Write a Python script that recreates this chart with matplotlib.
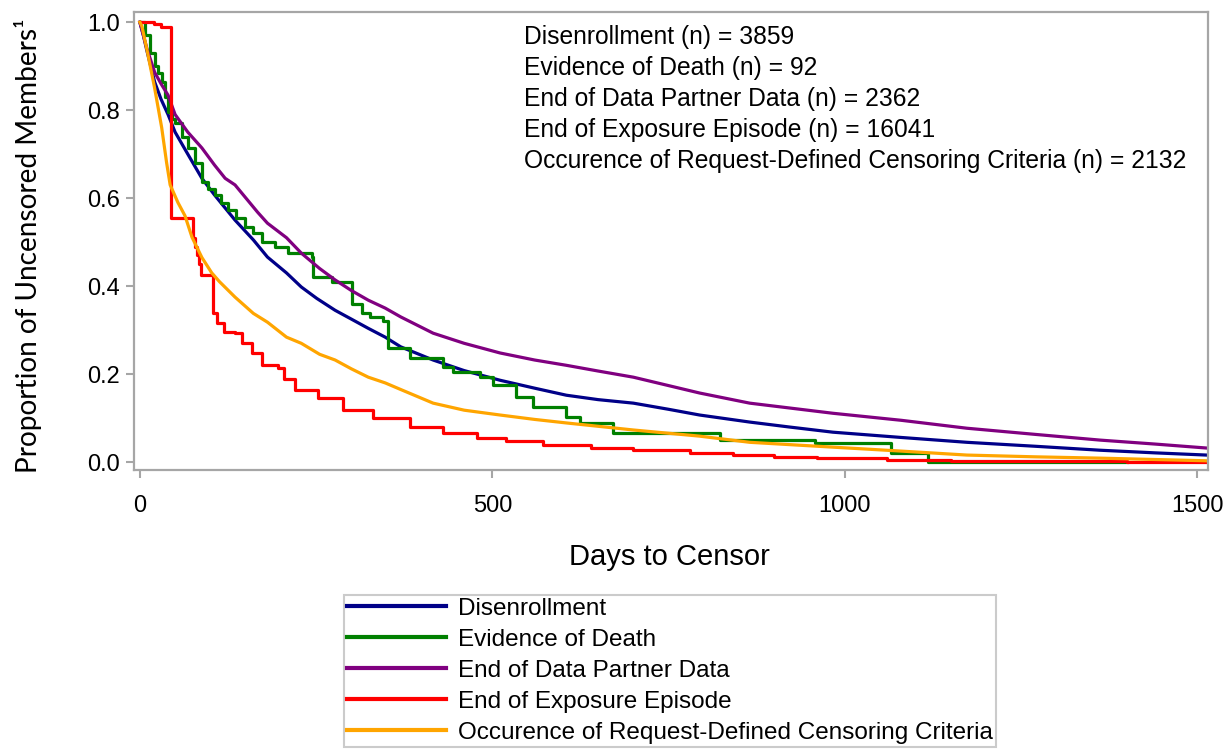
import matplotlib
matplotlib.use('Agg')
import matplotlib.pyplot as plt

plt.rcParams['font.family'] = ['Liberation Sans', 'DejaVu Sans']

# Série : Disenrollment
dis_days = [0, 5, 10, 21, 30, 40, 50, 68, 88, 106, 135, 161, 181, 208, 229, 251, 277, 300, 324,
            348, 370, 416, 460, 511, 560, 605, 650, 700, 750, 794, 865, 920, 983, 1080, 1173,
            1270, 1362, 1440, 1513]
dis_vals = [1.0, 0.97, 0.935, 0.864, 0.825, 0.79, 0.75, 0.70, 0.645, 0.607, 0.55, 0.505, 0.466,
            0.43, 0.398, 0.372, 0.345, 0.325, 0.304, 0.284, 0.262, 0.232, 0.208, 0.186, 0.168,
            0.152, 0.142, 0.134, 0.12, 0.107, 0.091, 0.08, 0.068, 0.056, 0.045, 0.036, 0.027,
            0.021, 0.016]

# Série : Evidence of Death
death_days = [0, 7, 14, 21, 26, 31, 36, 40, 45, 50, 60, 68, 78, 88, 97, 106, 115, 125, 137, 149,
              161, 173, 191, 210, 244, 246, 272, 301, 315, 326, 345, 352, 383, 430, 444, 482,
              501, 534, 558, 605, 624, 671, 823, 957, 1066, 1118, 1400]
death_vals = [1.0, 0.97, 0.93, 0.90, 0.885, 0.864, 0.83, 0.795, 0.78, 0.77, 0.74, 0.714, 0.68,
              0.636, 0.62, 0.607, 0.59, 0.573, 0.555, 0.534, 0.52, 0.50, 0.489, 0.475, 0.466,
              0.42, 0.41, 0.36, 0.34, 0.33, 0.32, 0.26, 0.236, 0.216, 0.205, 0.193, 0.175,
              0.148, 0.125, 0.102, 0.089, 0.066, 0.05, 0.043, 0.02, 0.0, 0.0]

# Série : End of Data Partner Data
dp_days = [0, 5, 10, 21, 30, 40, 50, 68, 88, 106, 121, 135, 167, 181, 208, 229, 255, 277, 300,
           324, 348, 370, 416, 460, 511, 560, 605, 650, 700, 794, 865, 983, 1080, 1173, 1270,
           1362, 1440, 1513]
dp_vals = [1.0, 0.97, 0.94, 0.886, 0.86, 0.834, 0.79, 0.75, 0.714, 0.675, 0.645, 0.63, 0.568,
           0.543, 0.51, 0.475, 0.44, 0.414, 0.39, 0.368, 0.35, 0.33, 0.293, 0.27, 0.248, 0.232,
           0.22, 0.207, 0.193, 0.157, 0.134, 0.111, 0.095, 0.077, 0.063, 0.05, 0.041, 0.032]

# Série : End of Exposure Episode
exp_days = [0, 20, 30, 44, 75, 78, 81, 84, 87, 104, 110, 120, 135, 145, 159, 173, 196, 205, 220,
            252, 288, 330, 383, 430, 478, 520, 572, 640, 700, 780, 841, 900, 960, 1060, 1150,
            1250, 1400, 1513]
exp_vals = [1.0, 0.995, 0.99, 0.555, 0.51, 0.49, 0.47, 0.45, 0.425, 0.34, 0.316, 0.296, 0.293,
            0.27, 0.248, 0.22, 0.214, 0.19, 0.164, 0.145, 0.118, 0.10, 0.08, 0.067, 0.055,
            0.047, 0.039, 0.032, 0.027, 0.02, 0.016, 0.012, 0.009, 0.005, 0.003, 0.002, 0.0, 0.0]

# Série : Occurence of Request-Defined Censoring Criteria
req_days = [0, 3, 11, 21, 31, 38, 43, 54, 64, 74, 88, 102, 113, 135, 161, 181, 208, 229, 255,
            277, 300, 324, 348, 370, 416, 460, 511, 560, 605, 700, 794, 865, 983, 1080, 1173,
            1270, 1362, 1513]
req_vals = [1.0, 0.99, 0.93, 0.85, 0.76, 0.68, 0.63, 0.59, 0.56, 0.511, 0.465, 0.43, 0.41,
            0.375, 0.338, 0.318, 0.284, 0.27, 0.245, 0.232, 0.212, 0.193, 0.18, 0.165, 0.134,
            0.118, 0.107, 0.097, 0.089, 0.073, 0.059, 0.045, 0.034, 0.025, 0.016, 0.012, 0.009,
            0.003]

labels = ['Disenrollment', 'Evidence of Death', 'End of Data Partner Data',
          'End of Exposure Episode', 'Occurence of Request-Defined Censoring Criteria']
counts = [3859, 92, 2362, 16041, 2132]
colors = ['#000088', '#008000', '#800080', '#ff0000', '#ffa500']

fig = plt.figure(figsize=(12.28, 7.5), dpi=100)
ax = fig.add_axes([0.109, 0.3733, 0.8747, 0.6107])

lw = 2.3
ax.plot(dis_days, dis_vals, color=colors[0], lw=lw, label=labels[0])
ax.plot(death_days, death_vals, color=colors[1], lw=lw, drawstyle='steps-post', label=labels[1])
ax.plot(dp_days, dp_vals, color=colors[2], lw=lw, label=labels[2])
ax.plot(exp_days, exp_vals, color=colors[3], lw=lw, drawstyle='steps-post', label=labels[3])
ax.plot(req_days, req_vals, color=colors[4], lw=lw, label=labels[4])

ax.set_xlim(-8.5, 1515)
ax.set_ylim(-0.018, 1.023)
ax.set_xticks([0, 500, 1000, 1500])
ax.set_yticks([0.0, 0.2, 0.4, 0.6, 0.8, 1.0])
ax.set_yticklabels(['0.0', '0.2', '0.4', '0.6', '0.8', '1.0'])

frame = '#a6a6a6'
for s in ax.spines.values():
    s.set_color(frame)
    s.set_linewidth(1.6)
ax.tick_params(axis='both', colors=frame, length=6, width=1.5, labelsize=17,
               labelcolor='black')
ax.tick_params(axis='x', pad=12)
ax.tick_params(axis='y', pad=4)

ax.set_xlabel('Days to Censor', fontsize=21, va='center')
ax.xaxis.set_label_coords(0.499, -0.19)
ax.set_ylabel('Proportion of Uncensored Members\u00b9', fontsize=20.2,
              family=['Lato', 'DejaVu Sans'], va='center')
ax.yaxis.set_label_coords(-0.0987, 0.49)

# Texte des effectifs
for i, (lab, n) in enumerate(zip(labels, counts)):
    ax.text(0.363, 0.945 - i * 0.0677, f'{lab} (n) = {n}', transform=ax.transAxes,
            fontsize=17.7, va='center', ha='left')

leg = fig.legend(loc='upper center', bbox_to_anchor=(0.5456, 0.2067), fontsize=17.5,
                 frameon=True, fancybox=False, edgecolor='#bfbfbf', handlelength=4.1,
                 handletextpad=0.5, labelspacing=0.37, borderpad=0.12, borderaxespad=0)
leg.get_frame().set_linewidth(1.5)
for h in leg.get_lines():
    h.set_linewidth(3)

fig.savefig('out.png', dpi=100)
